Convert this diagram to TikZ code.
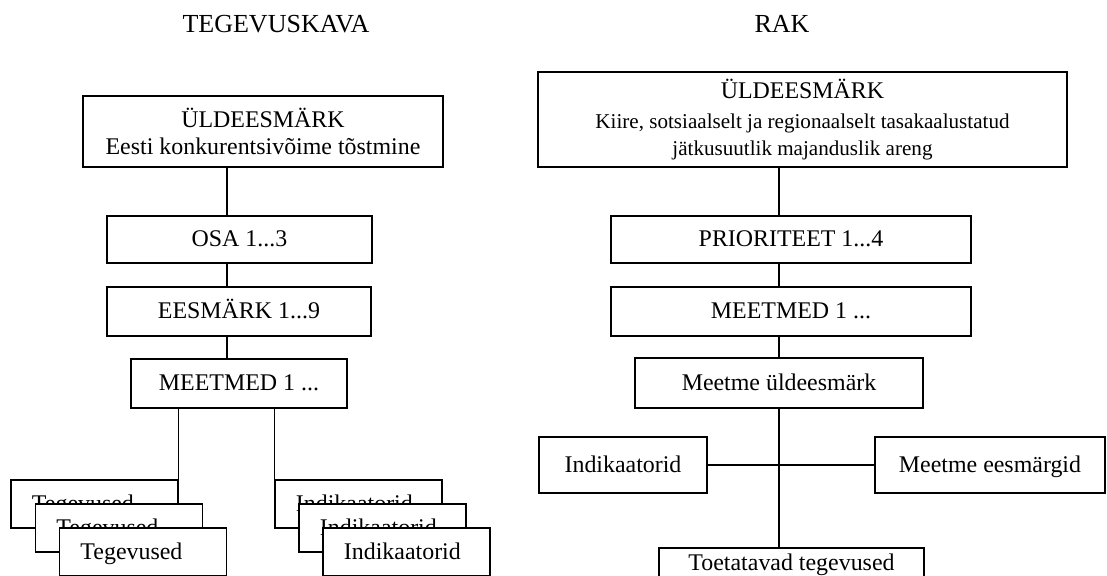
\documentclass[tikz,border=0pt]{standalone}
\usepackage{fontspec}
\setmainfont{Liberation Serif}
\usepackage{tikz}

\begin{document}
\begin{tikzpicture}[x=0.025cm,y=-0.025cm,line width=1pt]
		\clip (0,0) rectangle (1107,575);
		\tikzstyle{box} = [rectangle,draw,fill=white,align=center,inner sep=0pt,font=\fontsize{17}{19.2}\selectfont]
		\tikzstyle{one} = [text height=14pt,text depth=3.5pt]
		\tikzstyle{stack} = [box,one,minimum width=4.175cm,minimum height=1.2cm,text width=3.125cm,inner xsep=0.525cm,align=left]
		\tikzstyle{title} = [anchor=base,font=\fontsize{18.5}{21}\selectfont]
		
		% titles
		\node[title] (T1) at (276,32) {TEGEVUSKAVA};
		\node[title] (T2) at (782,32) {RAK};
		
		% tegevuskava
		\begin{scope}[every node/.style={box}]
			\node[minimum width=9cm,minimum height=1.775cm] (LT) at (263,131.5) {ÜLDEESMÄRK\\Eesti konkurentsivõime tõstmine};
			\node[one,minimum width=6.625cm,minimum height=1.175cm] (LO) at (239.5,239.5) {OSA 1...3};
			\node[one,minimum width=6.6cm,minimum height=1.225cm] (LE) at (239,311.5) {EESMÄRK 1...9};
			\node[one,minimum width=5.4cm,minimum height=1.225cm] (LM) at (239,383.5) {MEETMED 1 ...};
		\end{scope}
		\node[stack] (TG1) at (94.5,504) {Tegevused};
		\node[stack] (TG2) at (119,528) {Tegevused};
		\node[stack] (TG3) at (143,552) {Tegevused};
		\node[stack] (IN1) at (358.5,504) {Indikaatorid};
		\node[stack] (IN2) at (382.5,528) {Indikaatorid};
		\node[stack] (IN3) at (406.5,552) {Indikaatorid};
		
		\coordinate (LX) at (227,0);
		\draw (LT.south -| LX) -- (LO.north -| LX);
		\draw (LO.south -| LX) -- (LE.north -| LX);
		\draw (LE.south -| LX) -- (LM.north -| LX);
		\draw (TG1.north east |- LM.south) -- (TG1.north east);
		\draw (IN1.north west |- LM.south) -- (IN1.north west);
		
		% rak
		\begin{scope}[every node/.style={box}]
			\node[minimum width=13.225cm,minimum height=2.375cm] (RT) at (802.5,119.5) {ÜLDEESMÄRK\\[2pt]
				\fontsize{15}{18.5}\selectfont Kiire, sotsiaalselt ja regionaalselt tasakaalustatud\\
				\fontsize{15}{18.5}\selectfont jätkusuutlik majanduslik areng};
			\node[one,minimum width=9cm,minimum height=1.175cm] (RP) at (791,239.5) {PRIORITEET 1...4};
			\node[one,minimum width=9cm,minimum height=1.225cm] (RM) at (791,311.5) {MEETMED 1 ...};
			\node[one,minimum width=7.2cm,minimum height=1.25cm] (RU) at (779,383) {Meetme üldeesmärk};
			\node[one,minimum width=4.2cm,minimum height=1.4cm] (RI) at (623,465) {Indikaatorid};
			\node[one,minimum width=5.75cm,minimum height=1.4cm] (RE) at (990,465) {Meetme eesmärgid};
			\node[one,minimum width=6.625cm,minimum height=0.75cm] (RTT) at (791.5,563) {Toetatavad tegevused};
		\end{scope}
		
		\coordinate (RX) at (779,0);
		\draw (RT.south -| RX) -- (RP.north -| RX);
		\draw (RP.south -| RX) -- (RM.north -| RX);
		\draw (RM.south -| RX) -- (RU.north -| RX);
		\draw (RU.south -| RX) -- (RTT.north -| RX);
		\draw (RI.east) -- (RE.west);
		
	\end{tikzpicture}
\end{document}
